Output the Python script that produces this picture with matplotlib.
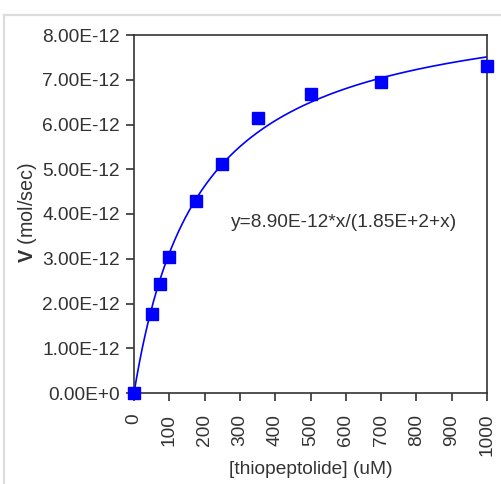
import numpy as np
import matplotlib
matplotlib.use("Agg")
import matplotlib.pyplot as plt
from matplotlib.lines import Line2D
from matplotlib.ticker import FixedLocator

# Data
conc = [0, 50, 75, 100, 175, 250, 350, 500, 700, 1000]
rate = [0.0, 1.76e-12, 2.44e-12, 3.05e-12, 4.30e-12, 5.12e-12, 6.15e-12, 6.68e-12, 6.95e-12, 7.30e-12]
vmax = 8.90e-12
km = 1.85e2
xticks = [0, 100, 200, 300, 400, 500, 600, 700, 800, 900, 1000]
yticks = [0, 1e-12, 2e-12, 3e-12, 4e-12, 5e-12, 6e-12, 7e-12, 8e-12]
ytick_labels = ["0.00E+0", "1.00E-12", "2.00E-12", "3.00E-12", "4.00E-12",
                "5.00E-12", "6.00E-12", "7.00E-12", "8.00E-12"]
eq_text = "y=8.90E-12*x/(1.85E+2+x)"

plt.rcParams['font.family'] = ['Liberation Sans', 'DejaVu Sans']
plt.rcParams['mathtext.fontset'] = 'custom'
plt.rcParams['mathtext.bf'] = 'Liberation Sans:bold'
plt.rcParams['mathtext.rm'] = 'Liberation Sans'

W, H = 502, 484
fig = plt.figure(figsize=(W / 100, H / 100), dpi=100)
fig.patch.set_facecolor('white')

# light gray frame
fig.add_artist(Line2D([3.8 / W, 3.8 / W], [0, 1 - 15 / H], color='#dcdcdc', lw=1.6,
                      transform=fig.transFigure))
fig.add_artist(Line2D([3.8 / W, 1], [1 - 15 / H, 1 - 15 / H], color='#dcdcdc', lw=1.6,
                      transform=fig.transFigure))

left, right, top, bottom = 134, 487, 35, 393
ax = fig.add_axes([left / W, 1 - bottom / H, (right - left) / W, (bottom - top) / H])

xs = np.linspace(0, 1000, 400)
ax.plot(xs, vmax * xs / (km + xs), color='#0000ff', lw=1.2)
ax.plot(conc, rate, linestyle='none', marker='s', ms=9, color='#0000ff',
        clip_on=False, zorder=5)

fs = 13.8
ax.set_xlim(0, 1000)
ax.set_ylim(0, 8e-12)
ax.xaxis.set_major_locator(FixedLocator(xticks))
ax.set_xticklabels([str(t) for t in xticks], rotation=90, fontsize=fs, color='#333333')
ax.yaxis.set_major_locator(FixedLocator(yticks))
ax.set_yticklabels(ytick_labels, fontsize=fs, color='#333333')
ax.tick_params(axis='both', direction='out', length=6, width=1.2, color='#333333')
ax.tick_params(axis='x', pad=9)
ax.tick_params(axis='y', pad=4)
ax.tick_params(top=False, right=False)
for s in ax.spines.values():
    s.set_color('#333333')
    s.set_linewidth(1.2)

ax.set_xlabel("[thiopeptolide] (uM)", fontsize=fs, color='#333333')
ax.set_ylabel(r"$\mathbf{V}$ (mol/sec)", fontsize=14.2, color='#333333')
ax.yaxis.set_label_coords(-(left - 39) / (right - left), (bottom - 213) / (bottom - top))
ax.xaxis.set_label_coords(0.5, -(461 - bottom) / (bottom - top))

ax.text(595, 3.8e-12, eq_text, fontsize=fs, color='#333333',
        ha='center', va='center')

fig.savefig("out.png", dpi=100)
